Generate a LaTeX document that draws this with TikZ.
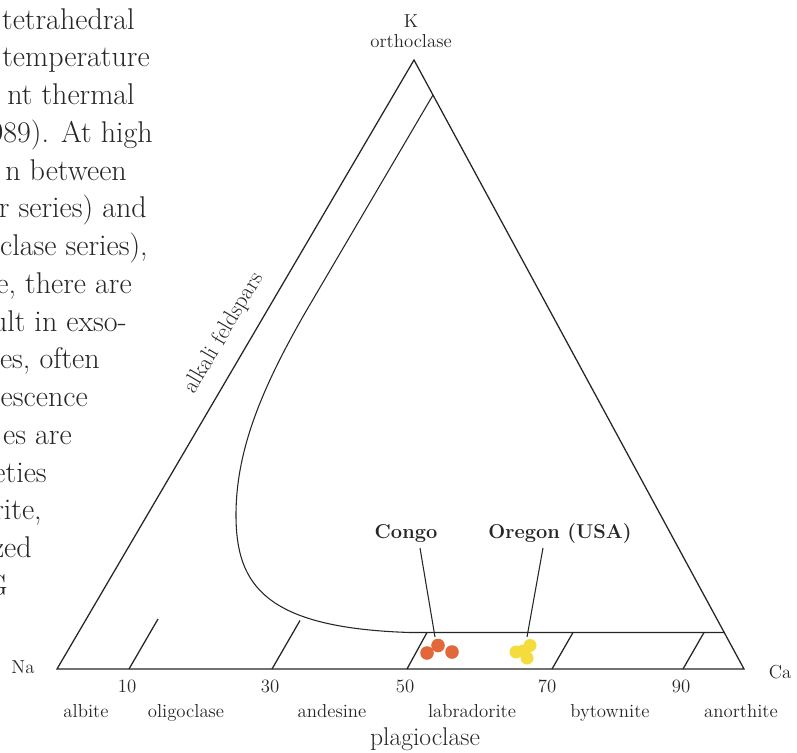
\documentclass[tikz,border=0pt]{standalone}
\definecolor{dotorange}{HTML}{E2673A}
\definecolor{dotyellow}{HTML}{F3DC3C}
\definecolor{ink}{HTML}{262626}
\begin{document}
\begin{tikzpicture}[x=0.75pt,y=-0.75pt,
  edge/.style={line width=0.95pt, draw=ink},
  thin/.style={line width=0.8pt, draw=ink},
  lbl/.style={font=\fontsize{14.1}{15}\selectfont, text=ink, inner sep=0pt, anchor=base},
  biglbl/.style={font=\fontsize{19.2}{21}\selectfont, text=ink, inner sep=0pt, anchor=base},
  loc/.style={font=\fontsize{15}{16}\selectfont\bfseries, text=ink, inner sep=0pt, anchor=base},
  body/.style={font=\fontsize{22.5}{26}\selectfont, text=ink, inner sep=0pt, anchor=base east},
  odot/.style={fill=dotorange, draw=none},
  ydot/.style={fill=dotyellow, draw=none}]
\useasboundingbox (0,0) rectangle (797,753);
% ---- cut-off body text on the left
\begin{scope}
\clip (0,0) rectangle (797,753);
\node[body] (t1)  at (135,29)    {tetrahedral};
\node[body] (t2)  at (150,66.8)  {temperature};
\node[body] (t3)  at (135,104.5) {nt thermal};
\node[body] (t4)  at (153,142.3) {989). At high};
\node[body] (t5)  at (127,180)   {n between};
\node[body] (t6)  at (147,217.8) {r series) and};
\node[body] (t7)  at (148,255.5) {oclase series),};
\node[body] (t8)  at (132,293.3) {e, there are};
\node[body] (t9)  at (127,331)   {ult in exso-};
\node[body] (t10) at (100,368.8) {es, often};
\node[body] (t11) at (88,406.5)  {escence};
\node[body] (t12) at (72,444.3)  {es are};
\node[body] (t13) at (47,482)    {eties};
\node[body] (t14) at (42,519.8)  {rite,};
\node[body] (t15) at (32,557.5)  {zed};
\node[body] (t16) at (8,595.3)   {G};
\end{scope}
% ---- triangle
\coordinate (K)  at (414,60);
\coordinate (Na) at (57,669);
\coordinate (Ca) at (744,669);
\draw[edge, line join=miter] (Na) -- (K) -- (Ca) -- cycle;
% ---- inner field boundary
\coordinate (i0) at (433,95);
\coordinate (i1) at (305,313);
\coordinate (i2) at (236,515);
\coordinate (i3) at (410,632.5);
\coordinate (i4) at (724.5,632.5);
\draw[thin] (i0) -- (i1) .. controls (262,388) and (236,450) .. (i2)
  .. controls (236,585) and (265,628) .. (i3) -- (i4);
% ---- composition ticks
\coordinate (b10) at (129,669); \coordinate (u10) at (158,619);
\coordinate (b30) at (272,669); \coordinate (u30) at (300,620.5);
\coordinate (b50) at (407,669); \coordinate (u50) at (427,632.5);
\coordinate (b70) at (552,669); \coordinate (u70) at (573,632.5);
\coordinate (b90) at (683,669); \coordinate (u90) at (704,632.5);
\foreach \p in {10,30,50,70,90} \draw[edge] (b\p) -- (u\p);
% ---- vertex labels
\node[lbl] (kLbl)  at (411,27) {K};
\node[lbl] (orLbl) at (411,47) {orthoclase};
\node[lbl] (naLbl) at (23,673) {Na};
\node[lbl] (caLbl) at (780,678) {Ca};
% ---- numbers
\node[lbl] (n10) at (127,692) {10};
\node[lbl] (n30) at (270,692) {30};
\node[lbl] (n50) at (405,692) {50};
\node[lbl] (n70) at (547,692) {70};
\node[lbl] (n90) at (681,692) {90};
% ---- plagioclase names
\node[lbl] (ab) at (86,717)  {albite};
\node[lbl] (ol) at (186,717) {oligoclase};
\node[lbl] (an) at (332,717) {andesine};
\node[lbl] (la) at (472,717) {labradorite};
\node[lbl] (by) at (610,717) {bytownite};
\node[lbl] (ao) at (741,717) {anorthite};
\node[biglbl] (pl) at (425,745) {plagioclase};
% ---- alkali feldspars
\node[font=\fontsize{17.2}{19}\selectfont, text=ink, inner sep=0pt, rotate=59.6] (alk) at (224,333) {alkali feldspars};
% ---- samples
\fill[odot] (427,653) circle (6.8);
\fill[odot] (438,645.5) circle (6.8);
\fill[odot] (452,652) circle (6.8);
\fill[ydot] (516,652) circle (6.5);
\fill[ydot] (530,645.5) circle (6.5);
\fill[ydot] (527,658) circle (6.5);
\fill[ydot] (523,651) circle (6.5);
\node[loc] (congo)  at (406,538) {Congo};
\node[loc] (oregon) at (560,538) {Oregon (USA)};
\coordinate (cgTop) at (420,548); \coordinate (cgEnd) at (435,637);
\coordinate (orTop) at (543,548); \coordinate (orEnd) at (527,637);
\draw[thin] (cgTop) -- (cgEnd);
\draw[thin] (orTop) -- (orEnd);
\end{tikzpicture}
\end{document}
